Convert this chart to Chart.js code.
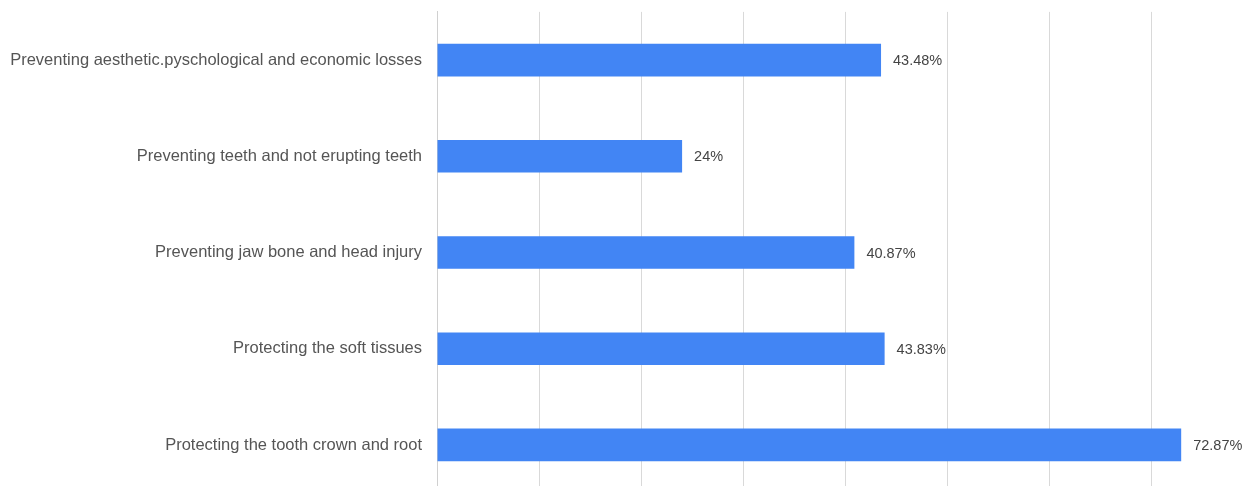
<!DOCTYPE html>
<html>
<head>
<meta charset="utf-8">
<script src="https://cdn.jsdelivr.net/npm/chart.js@4.4.0/dist/chart.umd.min.js"></script>
<style>
  html, body { margin: 0; padding: 0; background: #fff; overflow: hidden; }
  .wrap { width: 1254px; height: 531px; margin-top: -13px; position: relative; }
</style>
</head>
<body>
<div class="wrap"><canvas id="myChart"></canvas></div>
<script>
// data
const categories = [
  'Preventing aesthetic.pyschological and economic losses',
  'Preventing teeth and not erupting teeth',
  'Preventing jaw bone and head injury',
  'Protecting the soft tissues',
  'Protecting the tooth crown and root'
];
const percentages = [43.48, 24, 40.87, 43.83, 72.87];
const valueLabels = ['43.48%', '24%', '40.87%', '43.83%', '72.87%'];

// value labels next to each bar
const barLabels = {
  id: 'barLabels',
  afterDatasetsDraw(chart) {
    const ctx = chart.ctx;
    const meta = chart.getDatasetMeta(0);
    ctx.save();
    ctx.font = '14.5px "Liberation Sans", Arial, sans-serif';
    ctx.fillStyle = '#444';
    ctx.textBaseline = 'middle';
    meta.data.forEach(function(bar, i) {
      ctx.fillText(valueLabels[i], bar.x + 12, bar.y + 1);
    });
    ctx.restore();
  }
};

const ctx = document.getElementById('myChart').getContext('2d');

const chart = new Chart(ctx, {
  type: 'bar',
  data: {
    labels: categories,
    datasets: [{
      data: percentages,
      backgroundColor: '#4285F4',
      borderWidth: 0,
      barPercentage: 0.34,
      categoryPercentage: 1
    }]
  },
  options: {
    indexAxis: 'y',
    responsive: true,
    maintainAspectRatio: false,
    animation: false,
    layout: { padding: { top: 11, right: 0, bottom: 0, left: 0 } },
    plugins: {
      legend: { display: false },
      tooltip: { enabled: false }
    },
    scales: {
      x: {
        min: 0,
        max: 80,
        ticks: { display: false, stepSize: 10 },
        grid: { color: '#d9d9d9', lineWidth: 1, drawTicks: false },
        border: { display: false },
        afterFit(scale) { scale.height = 0; }
      },
      y: {
        ticks: {
          color: '#555',
          padding: 15,
          font: { family: '"Liberation Sans", Arial, sans-serif', size: 16.5 }
        },
        grid: { display: false, drawTicks: false },
        border: { display: true, color: '#d0d0d0' },
        afterFit(scale) { scale.width = 437; }
      }
    }
  },
  plugins: [barLabels]
});
</script>
</body>
</html>
